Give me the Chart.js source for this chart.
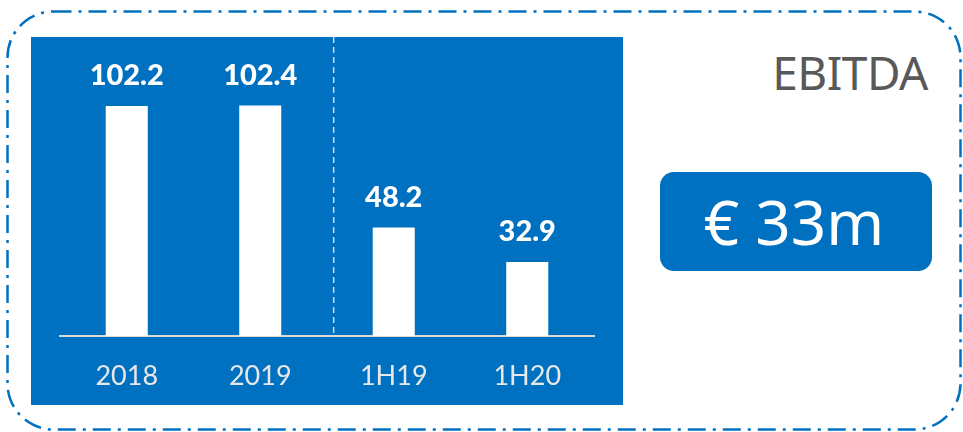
<!DOCTYPE html>
<html>
<head>
<meta charset="utf-8">
<script src="https://cdn.jsdelivr.net/npm/chart.js@4.4.0/dist/chart.umd.min.js"></script>
<style>
  html, body { margin: 0; padding: 0; background: #ffffff; }
  #stage { position: relative; width: 963px; height: 432px; overflow: hidden; font-family: "Noto Sans", "Open Sans", sans-serif; }
  #frame { position: absolute; left: 0; top: 0; }
  #panel { position: absolute; left: 31px; top: 37px; width: 592px; height: 368px; background: #0070C0; }
  #title { position: absolute; right: 35px; top: 42px; font-size: 46px; color: #595959; line-height: 60px; letter-spacing: -0.5px; }
  #badge { position: absolute; left: 660px; top: 172px; width: 272px; height: 99px; background: #0070C0; border-radius: 14px;
           color: #ffffff; font-size: 62px; line-height: 99px; text-align: center; box-sizing: border-box; padding-right: 4px; }
</style>
</head>
<body>
<div id="stage">
  <svg id="frame" width="963" height="432">
    <rect x="7.5" y="11.5" width="953" height="418" rx="46" ry="46" fill="none" stroke="#0070C0" stroke-width="2.5" stroke-dasharray="18 7 3 7"/>
  </svg>
  <div id="panel"><canvas id="c" width="592" height="368"></canvas></div>
  <div id="title">EBITDA</div>
  <div id="badge">€ 33m</div>
</div>
<script>
const categories = ["2018", "2019", "1H19", "1H20"];
const ebitda = [102.2, 102.4, 48.2, 32.9];

const valueLabels = {
  id: "valueLabels",
  afterDatasetsDraw(chart) {
    const ctx = chart.ctx;
    const meta = chart.getDatasetMeta(0);
    ctx.save();
    ctx.fillStyle = "#ffffff";
    ctx.font = "900 29px Lato, 'Noto Sans', sans-serif";
    ctx.textAlign = "center";
    ctx.textBaseline = "middle";
    meta.data.forEach((bar, i) => {
      ctx.fillText(ebitda[i].toFixed(1), bar.x, bar.y - 30);
    });
    ctx.restore();
  }
};

const divider = {
  id: "divider",
  beforeDatasetsDraw(chart) {
    const ctx = chart.ctx;
    const x = chart.scales.x.getPixelForValue(1.55);
    ctx.save();
    ctx.strokeStyle = "#c9dcef";
    ctx.lineWidth = 1.5;
    ctx.setLineDash([6, 4]);
    ctx.beginPath();
    ctx.moveTo(x, 0);
    ctx.lineTo(x, chart.chartArea.bottom);
    ctx.stroke();
    ctx.restore();
  }
};

new Chart(document.getElementById("c"), {
  type: "bar",
  data: {
    labels: categories,
    datasets: [{
      data: ebitda,
      backgroundColor: "#ffffff",
      borderWidth: 0,
      barPercentage: 0.315,
      categoryPercentage: 1
    }]
  },
  options: {
    responsive: false,
    animation: false,
    layout: { padding: { left: 29, right: 29, top: 29, bottom: 0 } },
    plugins: { legend: { display: false }, tooltip: { enabled: false } },
    scales: {
      x: {
        grid: { display: false, drawTicks: false },
        border: { display: true, color: "#d9d9d9", width: 2 },
        ticks: { color: "#e8e8e8", font: { family: "Lato, 'Noto Sans', sans-serif", size: 27 }, padding: 24 },
        afterFit: (s) => { s.height = 69; }
      },
      y: { display: false, min: 0, max: 120 }
    }
  },
  plugins: [divider, valueLabels]
});
</script>
</body>
</html>
